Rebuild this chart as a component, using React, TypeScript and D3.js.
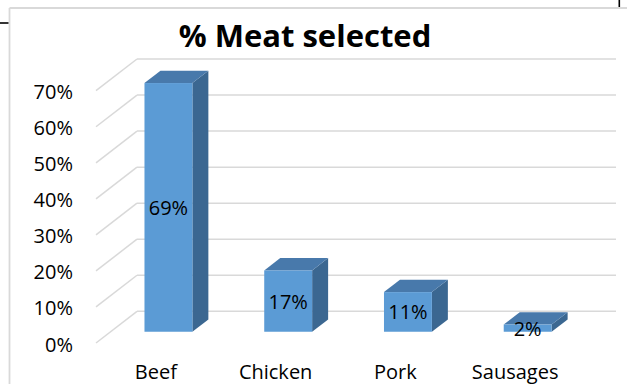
import * as d3 from 'd3';
import React from 'react';

const W = 627;
const H = 384;

// chart data
const categories = ['Beef', 'Chicken', 'Pork', 'Sausages'];
const shares = [0.69, 0.17, 0.11, 0.02];
const shareLabels = ['69%', '17%', '11%', '2%'];
const yTicks = [0, 0.1, 0.2, 0.3, 0.4, 0.5, 0.6, 0.7];
const title = '% Meat selected';

// 3d depth offset (front plane -> back wall)
const DEPTH_X = 41;
const DEPTH_Y = -31.7;
const BAR_D0 = 0.355;
const BAR_D1 = 0.745;

const FONT = '"Open Sans", sans-serif';
const GRID = '#d9d9d9';

const x = d3.scaleBand<string>().domain(categories).range([96, 575]).padding(0);
const y = d3.scaleLinear().domain([0, 0.7]).range([343, 90.7]);

const pct = d3.format('.0%');

function Bar({ cat, v, label }: { cat: string; v: number; label: string }) {
  const bw = x.bandwidth() * 0.4;
  const cx = (x(cat) as number) + x.bandwidth() / 2;
  const ox = BAR_D0 * DEPTH_X;
  const oy = BAR_D0 * DEPTH_Y;
  const dx = (BAR_D1 - BAR_D0) * DEPTH_X;
  const dy = (BAR_D1 - BAR_D0) * DEPTH_Y;
  const x0 = cx - bw / 2 + ox - 2;
  const x1 = x0 + bw;
  const yb = y(0) + oy;
  const yt = y(v) + oy;
  const top = `M${x0},${yt}L${x0 + dx},${yt + dy}L${x1 + dx},${yt + dy}L${x1},${yt}Z`;
  const side = `M${x1},${yt}L${x1 + dx},${yt + dy}L${x1 + dx},${yb + dy}L${x1},${yb}Z`;
  return (
    <g>
      <path d={side} fill="#3b6791" />
      <path d={top} fill="#4879ab" />
      <rect x={x0} y={yt} width={bw} height={yb - yt} fill="#5b9bd5" />
      <text
        x={x0 + bw / 2}
        y={(yt + yb) / 2}
        textAnchor="middle"
        dominantBaseline="central"
        fontFamily={FONT}
        fontSize={20}
        fill="#000"
      >
        {label}
      </text>
    </g>
  );
}

export default function App() {
  const backX0 = 96 + DEPTH_X;
  const backX1 = 575 + DEPTH_X;
  return (
    <svg
      width={W}
      height={H}
      style={{ position: 'absolute', left: 0, top: 0, background: '#fff' }}
    >
      {/* frame */}
      <line x1={9.5} y1={8} x2={W} y2={8} stroke={GRID} strokeWidth={1.8} />
      <line x1={9.5} y1={8} x2={9.5} y2={H} stroke={GRID} strokeWidth={1.8} />
      <line x1={0} y1={23} x2={8.5} y2={23} stroke="#000" strokeWidth={1.6} />
      <line x1={619.3} y1={0} x2={619.3} y2={7} stroke="#000" strokeWidth={1.6} />

      <text
        x={305}
        y={46.7}
        textAnchor="middle"
        fontFamily={FONT}
        fontWeight="bold"
        fontSize={31}
        fill="#000"
      >
        {title}
      </text>

      {/* gridlines: floor diagonal + back wall */}
      {yTicks.map((t) => (
        <g key={t}>
          <line
            x1={96}
            y1={y(t)}
            x2={backX0}
            y2={y(t) + DEPTH_Y}
            stroke={GRID}
            strokeWidth={1.5}
          />
          <line
            x1={backX0}
            y1={y(t) + DEPTH_Y}
            x2={backX1}
            y2={y(t) + DEPTH_Y}
            stroke={GRID}
            strokeWidth={1.5}
          />
          <text
            x={73}
            y={y(t) + 1}
            textAnchor="end"
            dominantBaseline="central"
            fontFamily={FONT}
            fontSize={20}
            fill="#000"
          >
            {pct(t)}
          </text>
        </g>
      ))}

      {categories.map((c, i) => (
        <Bar key={c} cat={c} v={shares[i]} label={shareLabels[i]} />
      ))}

      {categories.map((c) => (
        <text
          key={c}
          x={(x(c) as number) + x.bandwidth() / 2}
          y={379}
          textAnchor="middle"
          fontFamily={FONT}
          fontSize={20}
          fill="#000"
        >
          {c}
        </text>
      ))}
    </svg>
  );
}
